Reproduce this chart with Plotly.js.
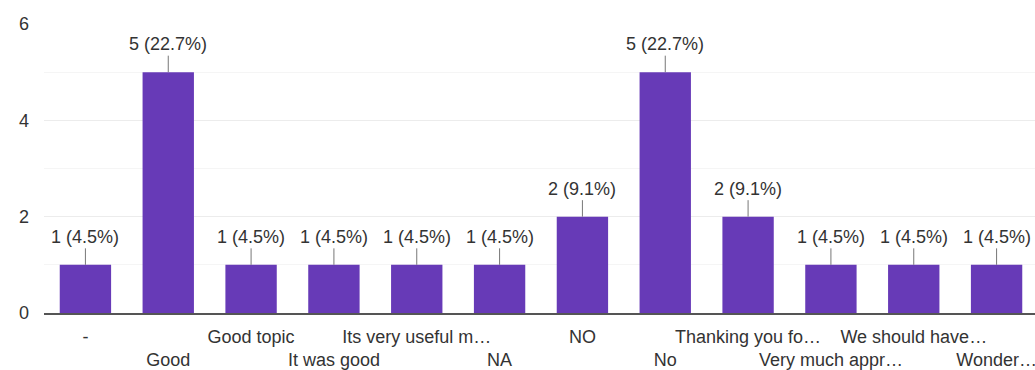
<!DOCTYPE html>
<html><head><meta charset="utf-8">
<script src="https://cdn.plot.ly/plotly-3.0.1.min.js"></script>
<style>html,body{margin:0;padding:0;overflow:hidden;background:#fff}</style>
</head><body><div id="chart"></div>
<script>
const categories = ["-", "Good", "Good topic", "It was good", "Its very useful m…", "NA", "NO", "No", "Thanking you fo…", "Very much appr…", "We should have…", "Wonder…"];
const counts = [1, 5, 1, 1, 1, 1, 2, 5, 2, 1, 1, 1];
const percents = ["4.5%", "22.7%", "4.5%", "4.5%", "4.5%", "4.5%", "9.1%", "22.7%", "9.1%", "4.5%", "4.5%", "4.5%"];
const yTicks = [0, 2, 4, 6];

const idx = categories.map((_, i) => i);
const tickText = categories.map((c, i) => i % 2 === 0 ? c : "<br>" + c);
const font = {family: "Arial, 'Liberation Sans', sans-serif", size: 18, color: "#333"};

const annotations = idx.map(i => ({
  x: i, y: counts[i], xref: "x", yref: "y",
  text: counts[i] + " (" + percents[i] + ")",
  showarrow: true, arrowhead: 0, arrowwidth: 1, arrowcolor: "#777",
  ax: 0, ay: -28, font: font
}));

Plotly.newPlot("chart", [{
  type: "bar", x: idx, y: counts,
  marker: {color: "#673AB7", line: {width: 0}},
  hoverinfo: "none"
}], {
  width: 1038, height: 370,
  margin: {l: 44, r: 0, t: 24, b: 57},
  paper_bgcolor: "#fff", plot_bgcolor: "#fff",
  bargap: 0.38,
  showlegend: false,
  font: font,
  xaxis: {
    tickmode: "array", tickvals: idx, ticktext: tickText, tickangle: 0,
    range: [-0.5, 11.5], showgrid: false, zeroline: false,
    showline: true, linecolor: "#555", linewidth: 2,
    ticks: "", ticklabelstandoff: 6, tickfont: font, fixedrange: true
  },
  yaxis: {
    range: [0, 6], tickmode: "array", tickvals: yTicks,
    showgrid: true, gridcolor: "#ececec", gridwidth: 1,
    minor: {dtick: 1, showgrid: true, gridcolor: "#f5f5f5", gridwidth: 1},
    zeroline: false, showline: false, ticks: "", ticklabelstandoff: 14,
    tickfont: font, fixedrange: true
  },
  annotations: annotations
}, {staticPlot: true, displayModeBar: false});
</script></body></html>
